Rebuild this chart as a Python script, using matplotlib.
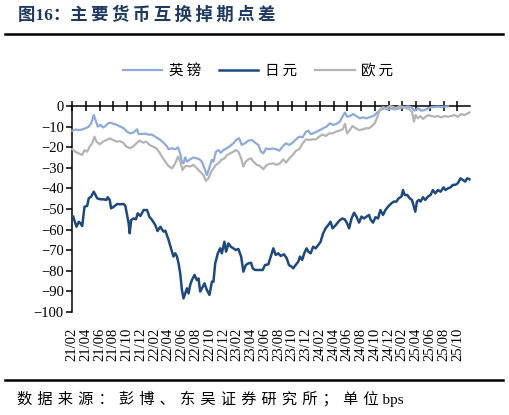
import matplotlib
matplotlib.use('Agg')
import matplotlib.pyplot as plt

plt.rcParams['font.family'] = ['Liberation Serif', 'Noto Sans CJK SC', 'DejaVu Sans']

# months since 2021-02, values in bps
gbp_t = [0.03, 0.51, 0.99, 1.48, 1.96, 2.43, 2.78, 3.16, 3.41, 3.74, 4.13, 4.52, 4.86, 5.25, 5.58,
         6.06, 6.55, 7.03, 7.51, 8.00, 8.48, 8.96, 9.45, 9.68, 10.17, 10.65, 11.13, 11.62, 12.10,
         12.49, 12.83, 13.30, 13.80, 14.03, 14.52, 15.00, 15.39, 15.72, 15.97, 16.20, 16.45, 16.70,
         17.17, 17.65, 18.14, 18.52, 18.87, 19.25, 19.59, 19.93, 20.32, 20.55, 20.90, 21.28, 21.62,
         22.00, 22.49, 22.97, 23.45, 23.94, 24.28, 24.67, 25.14, 25.62, 26.12, 26.59, 27.07, 27.46,
         27.80, 28.19, 28.67, 29.16, 29.64, 30.12, 30.61, 31.09, 31.57, 32.06, 32.54, 33.01, 33.51,
         33.99, 34.32, 34.67, 35.04, 35.54, 36.01, 36.49, 36.99, 37.46, 37.94, 38.43, 38.91, 39.30,
         39.64, 39.97, 40.36, 40.84, 41.33, 41.81, 42.29, 42.78, 43.16, 43.51, 43.99, 44.46, 44.96,
         45.43, 45.91, 46.41, 46.88, 47.36, 47.86, 48.33, 48.81, 49.30, 49.78, 50.26, 50.75, 51.23,
         51.71, 52.20, 52.68, 53.16, 53.65, 54.13, 54.61]
gbp = [-12, -11.4, -11.7, -11.4, -10.8, -10, -8.4, -4.4, -6.8, -10, -9.2, -10.4, -9.7, -8.4, -8.1,
       -8.7, -9.2, -10, -10.8, -12.5, -13.3, -12.8, -11.3, -13.6, -13.6, -13.4, -13.9, -13.9, -14.9,
       -15.7, -16.5, -17.8, -19.7, -21, -20.5, -21, -20.1, -23, -27.5, -27.8, -25, -27,
       -25.9, -25, -25.4, -25.9, -27, -30.3, -33.5, -30.3, -26.2, -27, -22.2, -21.4, -22.7,
       -21.4, -20.5, -19.4, -18.1, -16.2, -15.7, -18.9, -18.1, -16.8, -16.5, -17.8, -18.9, -22.2,
       -23, -20.6, -21, -20.6, -21, -21.7, -19.7, -18.1, -18.9, -17.8, -16.2, -14.9, -15.2,
       -12.5, -12, -13.6, -13.3, -12.5, -11.7, -10.8, -10, -8.4, -9.2, -8.7, -7.6, -5.2,
       -3.2, -5.2, -4.9, -3.9, -4.9, -6, -5.5, -6, -5.5, -5.2, -4.4, -2.8, -1.7,
       -1.1, -1.7, -1.1, -1.7, -1.3, -0.9, -0.6, -0.2, -0.6, -2.3, -1.1, -2.3, -2,
       -1.1, -0.6, -0.5, -0.3, -0.5, -0.3, -0.2]

jpy_t = [0.17, 0.65, 0.99, 1.23, 1.48, 1.81, 2.20, 2.43, 2.78, 3.16, 3.41, 3.65, 4.13, 4.61, 5.00,
         5.19, 5.48, 5.68, 6.06, 6.55, 7.03, 7.51, 7.75, 8.00, 8.23, 8.38, 8.58, 8.96, 9.30, 9.54,
         9.93, 10.41, 10.90, 11.23, 11.62, 12.10, 12.43, 12.83, 13.30, 13.55, 14.03, 14.52, 14.75,
         15.00, 15.25, 15.48, 15.72, 15.97, 16.20, 16.45, 16.70, 16.93, 17.17, 17.42, 17.80, 18.14,
         18.38, 18.62, 18.87, 19.25, 19.59, 19.97, 20.32, 20.55, 20.80, 21.19, 21.52, 21.77, 22.14,
         22.39, 22.72, 23.07, 23.45, 23.80, 24.17, 24.57, 24.90, 25.25, 25.62, 26.01, 26.26, 26.59,
         27.07, 27.71, 28.04, 28.52, 28.87, 29.25, 29.59, 29.97, 30.32, 30.80, 31.19, 31.52, 31.91,
         32.14, 32.49, 32.87, 33.12, 33.45, 33.74, 34.09, 34.32, 34.67, 35.04, 35.39, 35.77, 36.12,
         36.49, 36.84, 37.22, 37.57, 37.86, 38.19, 38.52, 38.91, 39.30, 39.64, 39.97, 40.26, 40.61,
         40.99, 41.33, 41.71, 42.06, 42.43, 42.78, 43.16, 43.41, 43.74, 44.09, 44.46, 44.81, 45.19,
         45.54, 45.91, 46.41, 46.78, 47.13, 47.46, 47.86, 48.09, 48.33, 48.72, 49.06, 49.39, 49.68,
         49.88, 50.12, 50.41, 50.65, 50.99, 51.33, 51.71, 52.10, 52.43, 52.78, 53.16, 53.55, 53.99,
         54.28, 54.61, 55.00, 55.33, 55.68, 56.06, 56.45, 56.78, 57.13, 57.42, 57.75]
jpy = [-53.7, -58.6, -56.2, -57, -58.3, -48.9, -48.5, -44.8, -44, -41.6, -43.2, -44.8, -45.3, -45.3, -45.6,
       -44.3, -45.6, -49.7, -48.9, -47.6, -47.7, -47.6, -48.5, -52.9, -57, -61.8, -55.4, -54.6, -55, -52.1,
       -53.4, -50.5, -50.5, -53.7, -55.3, -57.8, -60.7, -58.6, -61, -60.5, -65, -70.7, -73.1,
       -71.5, -73.1, -76.4, -81.2, -89.3, -93.4, -91, -88.5, -91, -86.9, -84.5, -82, -84.5,
       -83.7, -90.1, -88.5, -86.1, -89.3, -91.7, -85.3, -85.3, -76.4, -71.5, -69.1, -71.5, -65.9,
       -70.7, -66.7, -68.3, -69.1, -69.9, -69.4, -73.1, -80.4, -77.2, -76.4, -76.1, -78.8, -79.6,
       -79.6, -79.6, -77.2, -76.9, -73.1, -69.1, -72.3, -71.5, -72.8, -72, -73.9, -77.2, -78,
       -78.8, -77.2, -75.6, -73.1, -74.7, -71.5, -69.1, -70.7, -71.5, -68.3, -69.1, -67.5, -65.9,
       -61.8, -59.4, -57.8, -56.2, -59.4, -58.3, -57, -55.4, -54.6, -55.1, -57, -59.4, -54.6,
       -51.8, -53.7, -56.6, -53.7, -54.6, -53.7, -52.9, -55.3, -56.6, -54, -54.6, -50.5, -52.9,
       -50.5, -48.9, -47.2, -46.4, -46.4, -44.8, -44, -40.8, -43.2, -43.2, -44.8, -45.6, -48.9,
       -51.3, -46.4, -45.6, -46.4, -44.3, -45.6, -44, -43.2, -40.8, -42.4, -40.8, -41.6, -39.5,
       -40.8, -40, -39.5, -38.3, -38.3, -37.5, -35.1, -35.9, -36.7, -35.1, -35.6]

eur_t = [0.03, 0.51, 0.99, 1.48, 1.81, 2.20, 2.58, 2.93, 3.26, 3.55, 4.03, 4.52, 5.00, 5.48, 5.97,
         6.45, 6.93, 7.42, 7.90, 8.38, 8.87, 9.35, 9.83, 10.32, 10.80, 11.28, 11.77, 12.25, 12.72,
         13.22, 13.55, 14.03, 14.52, 15.00, 15.39, 15.72, 16.06, 16.35, 16.70, 17.17, 17.65, 18.14,
         18.62, 19.10, 19.45, 19.83, 20.22, 20.55, 20.90, 21.28, 21.67, 22.14, 22.54, 22.97, 23.45,
         23.84, 24.17, 24.57, 24.90, 25.25, 25.62, 26.01, 26.35, 26.84, 27.32, 27.80, 28.29, 28.77,
         29.25, 29.74, 30.22, 30.70, 31.09, 31.57, 32.06, 32.54, 33.01, 33.51, 33.99, 34.46, 34.96,
         35.43, 35.91, 36.41, 36.88, 37.36, 37.86, 38.33, 38.81, 39.30, 39.68, 39.97, 40.36, 40.75,
         41.23, 41.71, 42.20, 42.68, 43.16, 43.51, 43.99, 44.38, 44.71, 45.19, 45.68, 46.16, 46.64,
         47.13, 47.61, 48.09, 48.58, 49.06, 49.39, 49.68, 49.93, 50.26, 50.65, 50.99, 51.38, 51.81,
         52.20, 52.68, 53.16, 53.65, 54.13, 54.61, 55.10, 55.58, 56.06, 56.55, 57.03, 57.51, 57.75]
eur = [-21, -22.3, -23, -23.8, -21.4, -22.2, -19.7, -18.1, -14.9, -17.3, -18.6, -17.3, -16.5, -15.7, -16.5,
       -17.3, -17, -17.8, -19.7, -20.5, -19.7, -18.1, -16.8, -17.8, -17.3, -18.9, -19.7, -20.5, -22.7,
       -25.4, -27, -29.1, -30.3, -27.8, -24.6, -27, -31.1, -29.4, -29.1, -29.4, -28.6, -30.3,
       -31.9, -33.5, -36.4, -35.1, -31.9, -30.3, -28.6, -27.8, -26.2, -25.4, -23.8, -23, -22.2,
       -21.4, -22.2, -25.4, -29.4, -27, -25.9, -25.4, -27, -28.6, -29.1, -30.7, -28.6, -28.1,
       -27.8, -28.6, -27.8, -25.9, -27.5, -25.4, -23.8, -21.7, -21, -18.1, -16.2, -16.5, -16.2,
       -16.2, -14.9, -13.8, -14.6, -13.3, -13.3, -12.5, -12, -11.4, -8.7, -13.3, -11.7, -9.7,
       -10.8, -11.7, -11.4, -10.8, -10.8, -10, -8.4, -5.2, -1.7, -0.6, -1.1, 0, -0.5,
       -1.1, 0, -0.5, -1.1, -1.7, -2.8, -7.6, -4.4, -6, -4.9, -6.3, -5.2, -4.4,
       -4.9, -5.2, -4.9, -5.5, -4.9, -5.2, -4.9, -4.4, -5.2, -3.9, -4.4, -3.5, -3.1]

month_labels = ['21/02', '21/04', '21/06', '21/08', '21/10', '21/12', '22/02', '22/04', '22/06',
                '22/08', '22/10', '22/12', '23/02', '23/04', '23/06', '23/08', '23/10', '23/12',
                '24/02', '24/04', '24/06', '24/08', '24/10', '24/12', '25/02', '25/04', '25/06',
                '25/08', '25/10']
series_names = ['英镑', '日元', '欧元']
title_prefix = '图16：'
title = '主要货币互换掉期点差'
source = '数据来源：彭博、东吴证券研究所；单位'
unit = ' bps'

fig = plt.figure(figsize=(5.09, 4.15), dpi=100)
ax = fig.add_axes([0.1415, 0.2482, 0.7815, 0.4964])

ax.plot(gbp_t, gbp, color='#8eaadb', lw=1.6, label=series_names[0], clip_on=False, zorder=3)
ax.plot(jpy_t, jpy, color='#1f497d', lw=1.8, label=series_names[1], clip_on=False, zorder=3)
ax.plot(eur_t, eur, color='#b4b4b4', lw=1.6, label=series_names[2], clip_on=False, zorder=3)

ax.set_ylim(-100, 0)
ax.set_xlim(0, 57.8)
ax.set_yticks(range(-100, 1, 10))
ax.set_xticks([2 * i for i in range(len(month_labels))])
ax.set_xticklabels(month_labels, rotation=90, fontsize=10.5)
for lab in ax.get_yticklabels():
    lab.set_fontsize(10.5)

ax.spines['right'].set_visible(False)
ax.spines['bottom'].set_visible(False)
ax.spines['top'].set_linewidth(1.1)
ax.spines['left'].set_linewidth(1.1)
ax.tick_params(axis='x', top=True, bottom=False, labelbottom=True, direction='inout',
               length=7, width=1.1, pad=8)
ax.tick_params(axis='y', direction='out', length=4, width=1.1, pad=2)

# legend entries get a little letter spacing like the original
leg = fig.legend(loc='center', bbox_to_anchor=(0.507, 1 - 71 / 415), ncol=3, frameon=False,
                 prop={'family': ['Noto Sans CJK SC', 'DejaVu Sans'], 'size': 10.5},
                 handlelength=2.7, columnspacing=1.25, handletextpad=0.45)
for t in leg.get_texts():
    t.set_text('\u2009'.join(t.get_text()))

# the original uses wide letter spacing in the title and source line
fig.text(18 / 509, 1 - 15 / 415, title_prefix + '\u2009'.join(title), fontsize=12.5,
         fontweight='bold', color='#1f3a60', va='center', ha='left')
fig.add_artist(plt.Line2D([5 / 509, 503 / 509], [1 - 34 / 415] * 2, color='black', lw=1.8))
fig.add_artist(plt.Line2D([5 / 509, 503 / 509], [1 - 380 / 415] * 2, color='black', lw=1.8))
fig.text(17 / 509, 1 - 399 / 415, '\u2004'.join(source) + unit, fontsize=11,
         va='center', ha='left')

plt.savefig('out.png')
